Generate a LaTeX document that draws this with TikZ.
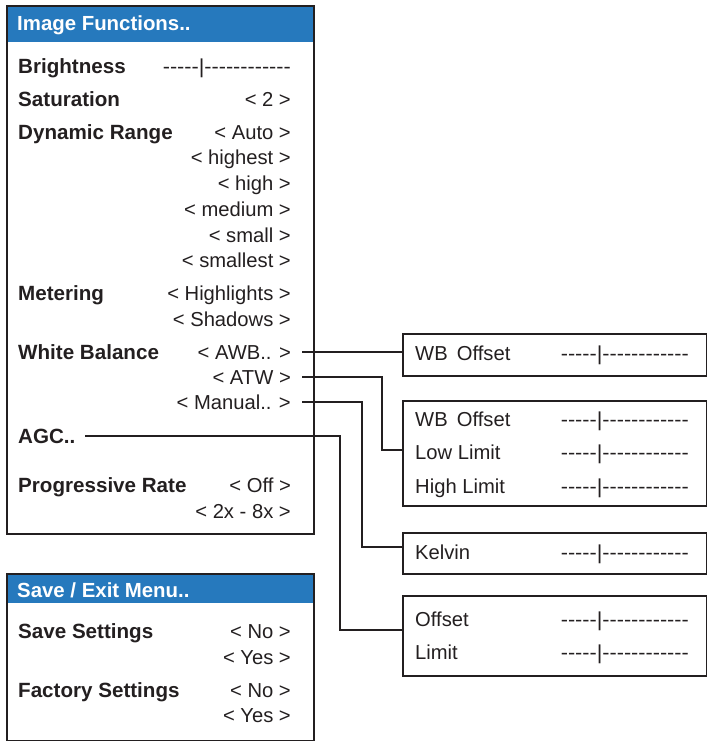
\documentclass[tikz,border=0pt]{standalone}
\usepackage{fontspec}
\setmainfont{Liberation Sans}
\usetikzlibrary{calc}
\definecolor{hdrblue}{RGB}{38,121,189}
\definecolor{ink}{RGB}{35,31,32}
\newcommand{\sld}{\scalebox{1.07}[1]{-{}-{}-{}-{}-|-{}-{}-{}-{}-{}-{}-{}-{}-{}-{}-{}-}}
\begin{document}
\begin{tikzpicture}[x=1pt,y=-1pt,
  txt/.style={inner sep=0pt,text height=14.4pt,text depth=0pt,font=\fontsize{20.2}{22}\selectfont,text=ink},
  lab/.style={txt,anchor=west,font=\fontsize{20.6}{22}\selectfont\bfseries},
  val/.style={txt,anchor=east},
  rlab/.style={txt,anchor=west},
  hdrtxt/.style={inner sep=0pt,text height=14.6pt,text depth=0pt,anchor=west,text=white,font=\fontsize{20.4}{22}\selectfont\bfseries},
  panel/.style={draw=ink,line width=1.8pt,anchor=north west,inner sep=0pt},
  hdrband/.style={fill=hdrblue,anchor=north west,inner sep=0pt},
  conn/.style={draw=ink,line width=1.8pt}]
\useasboundingbox (0,0) rectangle (707,741);

% main panel
\node[hdrband,minimum width=307pt,minimum height=37pt] (h1) at (6,5) {};
\node[panel,minimum width=307pt,minimum height=528pt] (main) at (6,5) {};
\node[hdrtxt] (t1) at (17,23) {Image Functions..};

\node[lab] (bri) at (18,66) {Brightness};
\node[val] (briv) at (291,66) {\sld};
\node[lab] (sat) at (18,99) {Saturation};
\node[val] (satv) at (291,99) {<~2~>};
\node[lab] (dyn) at (18,132) {Dynamic Range};
\node[val] (dyn1) at (291,132) {< Auto >};
\node[val] (dyn2) at (291,157.5) {< highest >};
\node[val] (dyn3) at (291,183) {< high >};
\node[val] (dyn4) at (291,209) {< medium >};
\node[val] (dyn5) at (291,235) {< small >};
\node[val] (dyn6) at (291,260.5) {< smallest >};
\node[lab] (met) at (18,293) {Metering};
\node[val] (met1) at (291,293) {< Highlights >};
\node[val] (met2) at (291,319) {< Shadows >};
\node[lab] (wb) at (18,352) {White Balance};
\node[val] (awb) at (291,352) {< AWB.. >};
\node[val] (atw) at (291,377) {< ATW >};
\node[val] (man) at (291,402) {< Manual.. >};
\node[lab] (agc) at (18,436) {AGC..};
\node[lab] (pr) at (18,485) {Progressive Rate};
\node[val] (pr1) at (291,485) {< Off >};
\node[val] (pr2) at (291,511) {< 2x - 8x >};

% save panel
\node[hdrband,minimum width=307pt,minimum height=30pt] (h2) at (6,573) {};
\node[panel,minimum width=307pt,minimum height=167pt] (save) at (6,573) {};
\node[hdrtxt] (t2) at (17,590) {Save / Exit Menu..};
\node[lab] (ss) at (18,631.5) {Save Settings};
\node[val] (ss1) at (291,631.5) {< No >};
\node[val] (ss2) at (291,657.5) {< Yes >};
\node[lab] (fs) at (18,690) {Factory Settings};
\node[val] (fs1) at (291,690) {< No >};
\node[val] (fs2) at (291,715.5) {< Yes >};

% right boxes
\node[panel,minimum width=303.5pt,minimum height=42pt] (b1) at (402,333) {};
\node[rlab] (b1a) at (415,353) {WB\hspace{0.45em}Offset};
\node[val] (b1v) at (689,353) {\sld};

\node[panel,minimum width=303.5pt,minimum height=105pt] (b2) at (402,400) {};
\node[rlab] (b2a) at (415,419) {WB\hspace{0.45em}Offset};
\node[val] (b2av) at (689,419) {\sld};
\node[rlab] (b2b) at (415,452.5) {Low Limit};
\node[val] (b2bv) at (689,452.5) {\sld};
\node[rlab] (b2c) at (415,486.5) {High Limit};
\node[val] (b2cv) at (689,486.5) {\sld};

\node[panel,minimum width=303.5pt,minimum height=41pt] (b3) at (402,532) {};
\node[rlab] (b3a) at (415,552) {Kelvin};
\node[val] (b3v) at (689,552) {\sld};

\node[panel,minimum width=303.5pt,minimum height=80pt] (b4) at (402,595) {};
\node[rlab] (b4a) at (415,619) {Offset};
\node[val] (b4av) at (689,619) {\sld};
\node[rlab] (b4b) at (415,652) {Limit};
\node[val] (b4bv) at (689,652) {\sld};

% connectors
\coordinate (c1) at (302,352);
\coordinate (c2) at (302,377);
\coordinate (c3) at (302,402);
\coordinate (c4) at (85,436);
\draw[conn] (c1) -- (b1.west |- c1);
\draw[conn] (c2) -| (382,450) -- (b2.west |- 0,450);
\draw[conn] (c3) -| (362,547) -- (b3.west |- 0,547);
\draw[conn] (c4) -| (340,630) -- (b4.west |- 0,630);
\end{tikzpicture}
\end{document}
